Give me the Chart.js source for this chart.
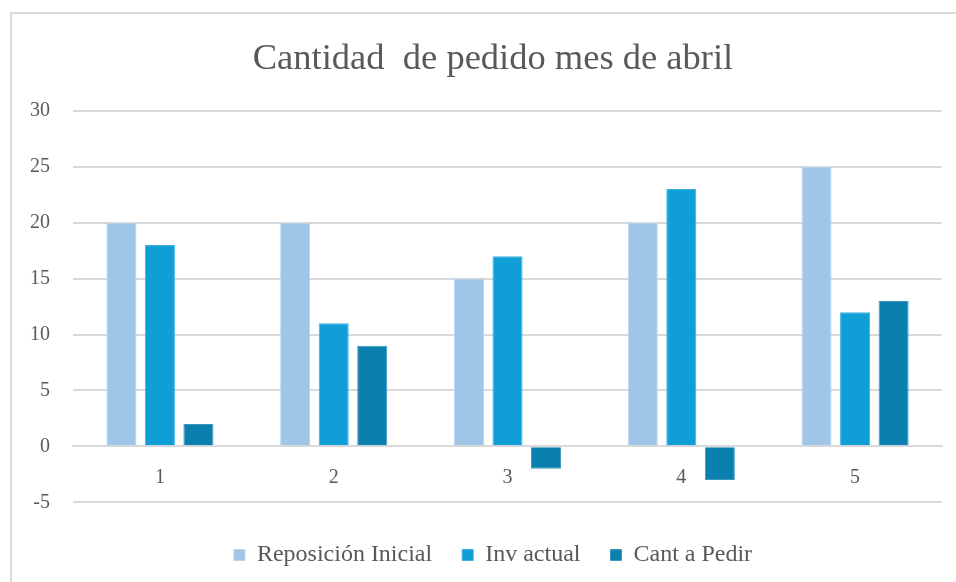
<!DOCTYPE html>
<html>
<head>
<meta charset="utf-8">
<script src="https://cdn.jsdelivr.net/npm/chart.js@4.4.1/dist/chart.umd.min.js"></script>
<style>
  html, body { margin: 0; padding: 0; background: #ffffff; overflow: hidden; width: 956px; height: 582px; }
  #frame { position: absolute; left: 10px; top: 12px; width: 966px; height: 600px; border: 2px solid #d9d9d9; box-sizing: border-box; background: #fff; }
  #wrap { position: absolute; left: 0; top: 0; width: 962px; height: 568px; }
</style>
</head>
<body>
<div id="frame"><div id="wrap"><canvas id="c"></canvas></div></div>
<script>
const categories = ['1', '2', '3', '4', '5'];
const reposicionInicial = [20, 20, 15, 20, 25];
const invActual = [18, 11, 17, 23, 12];
const cantAPedir = [2, 9, -2, -3, 13];
const yTicks = [-5, 0, 5, 10, 15, 20, 25, 30];

const serif = "'Liberation Serif', 'Times New Roman', serif";
const textColor = '#595959';

new Chart(document.getElementById('c'), {
  type: 'bar',
  data: {
    labels: categories,
    datasets: [
      { label: 'Reposición Inicial', data: reposicionInicial, backgroundColor: '#9fc6e7', borderColor: '#b5d4ee', borderWidth: 1 },
      { label: 'Inv actual', data: invActual, backgroundColor: '#0f9ed6', borderColor: '#3db2e0', borderWidth: 1 },
      { label: 'Cant a Pedir', data: cantAPedir, backgroundColor: '#0b80ae', borderColor: '#3a98bd', borderWidth: 1 }
    ]
  },
  options: {
    responsive: true,
    maintainAspectRatio: false,
    animation: false,
    devicePixelRatio: 1,
    layout: { padding: { left: 0, right: 0, top: 0, bottom: 5 } },
    datasets: { bar: { categoryPercentage: 0.665, barPercentage: 0.78 } },
    plugins: {
      title: {
        display: true,
        text: 'Cantidad  de pedido mes de abril',
        color: textColor,
        font: { family: serif, size: 36.5, weight: 'normal' },
        padding: { top: 24, bottom: 29 }
      },
      legend: {
        display: true,
        position: 'bottom',
        title: { display: true, text: '', font: { size: 1 }, padding: { top: 9.5, bottom: 0 } },
        labels: {
          color: textColor,
          font: { family: serif, size: 24 },
          boxWidth: 11,
          boxHeight: 11,
          padding: 30
        }
      },
      tooltip: { enabled: false }
    },
    scales: {
      x: {
        position: { y: 0 },
        grid: { display: false, drawTicks: false },
        border: { display: true, color: '#d9d9d9', width: 2 },
        ticks: { color: textColor, font: { family: serif, size: 20 }, padding: 19 }
      },
      y: {
        min: -5,
        max: 30,
        afterBuildTicks: (s) => { s.ticks = yTicks.map(v => ({ value: v })); },
        afterFit: (s) => { s.width = 61; },
        grid: { color: '#d9d9d9', lineWidth: 2, drawTicks: false },
        border: { display: false },
        ticks: { color: textColor, font: { family: serif, size: 20 }, padding: 23 }
      },
      yRight: {
        position: 'right',
        display: true,
        afterFit: (s) => { s.width = 32; },
        grid: { display: false, drawTicks: false },
        border: { display: false },
        ticks: { display: false }
      }
    }
  }
});
</script>
</body>
</html>
